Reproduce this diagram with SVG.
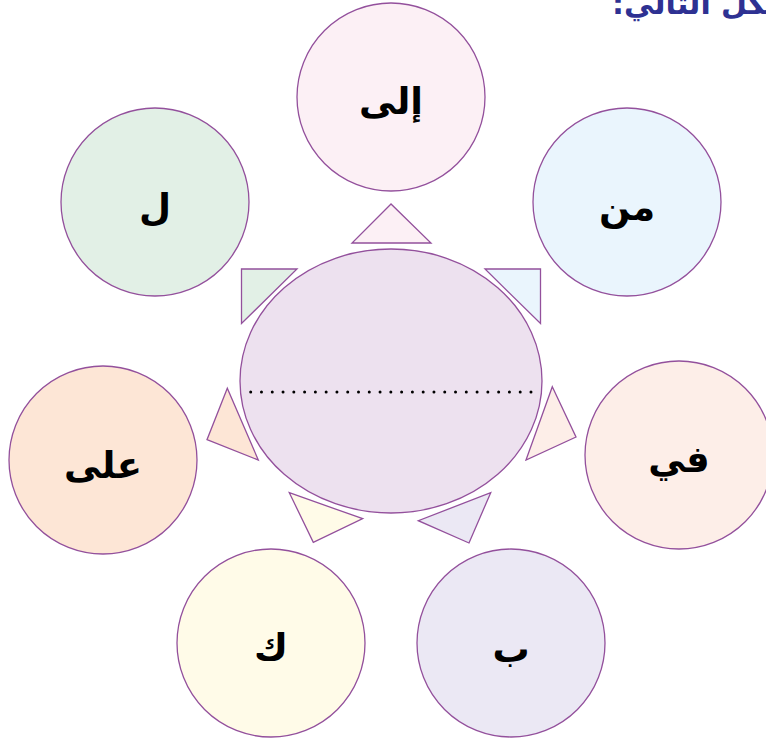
<svg xmlns="http://www.w3.org/2000/svg" width="766" height="744" viewBox="0 0 766 744">
<style>
.c{stroke:#93509c;stroke-width:1.3}
.t{stroke:#93509c;stroke-width:1.3;stroke-linejoin:miter}
.lb{font-family:"DejaVu Sans",sans-serif;font-size:37px;font-weight:bold;fill:#000;text-anchor:middle}
.h{font-family:"DejaVu Sans",sans-serif;font-size:30px;font-weight:bold;fill:#2e3192}
</style>
<rect width="766" height="744" fill="#fff"/>
<text class="h" x="612" y="14" direction="rtl" text-anchor="end">أكمل الشكل التالي:</text>
<g id="center">
<ellipse class="c" cx="391" cy="381" rx="151" ry="132" fill="#ede1ef"/>
<line x1="250.7" y1="392" x2="531" y2="392" stroke="#000" stroke-width="3" stroke-linecap="round" stroke-dasharray="0 10.78"/>
</g>
<g id="connectors">
<polygon class="t" points="391,204 352,243 431,243" fill="#fcf0f5"/>
<polygon class="t" points="241.5,269 297,269 241.5,323.5" fill="#e2f0e6"/>
<polygon class="t" points="485,269 540.5,269 540.5,323.5" fill="#eaf5fd"/>
<polygon class="t" points="227.3,388.3 207,439.7 258.3,460" fill="#fde6d6"/>
<polygon class="t" points="552.3,386.7 576,437 526,460" fill="#fdeee8"/>
<polygon class="t" points="289.3,492.7 362.7,518.7 313.3,542.3" fill="#fffbe8"/>
<polygon class="t" points="490.7,492.7 469,543 418.3,520.7" fill="#ebe8f4"/>
</g>
<g id="n-ila">
<circle class="c" cx="391" cy="97" r="94" fill="#fcf0f5"/>
<text class="lb" x="391" y="114">إلى</text>
</g>
<g id="n-min">
<circle class="c" cx="627" cy="202" r="94" fill="#eaf5fd"/>
<text class="lb" x="627" y="220">من</text>
</g>
<g id="n-fi">
<circle class="c" cx="679" cy="455" r="94" fill="#fdeee8"/>
<text class="lb" x="679" y="472">في</text>
</g>
<g id="n-ba">
<circle class="c" cx="511" cy="643" r="94" fill="#ebe8f4"/>
<text class="lb" x="511" y="662">ب</text>
</g>
<g id="n-kaf">
<circle class="c" cx="271" cy="643" r="94" fill="#fffbe8"/>
<text class="lb" x="271" y="660">ك</text>
</g>
<g id="n-ala">
<circle class="c" cx="103" cy="460" r="94" fill="#fde6d6"/>
<text class="lb" x="103" y="478">على</text>
</g>
<g id="n-lam">
<circle class="c" cx="155" cy="202" r="94" fill="#e2f0e6"/>
<text class="lb" x="155" y="220">ل</text>
</g>
</svg>
